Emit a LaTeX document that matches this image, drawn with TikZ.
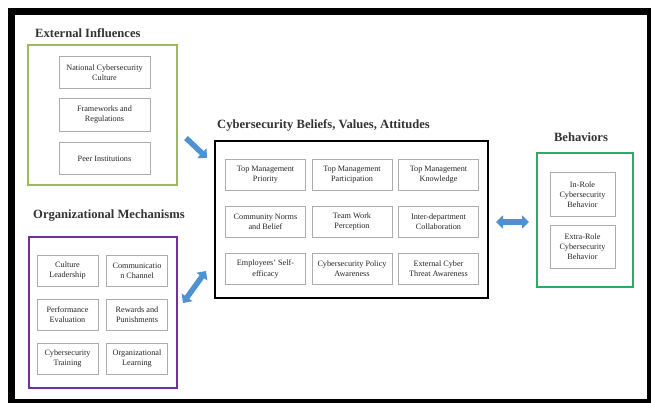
\documentclass[tikz,border=0pt]{standalone}
\usepackage{fontspec}
\setmainfont{Liberation Serif}
\usetikzlibrary{arrows.meta}

\definecolor{extgreen}{RGB}{155,187,89}
\definecolor{orgpurple}{RGB}{112,48,160}
\definecolor{behgreen}{RGB}{40,172,105}
\definecolor{arrowblue}{RGB}{78,146,210}

\tikzset{
  group/.style={draw, line width=2pt, inner sep=0pt},
  item/.style={draw=gray!65, line width=0.5pt, align=center, inner sep=0pt,
    font=\fontsize{8.2}{10}\selectfont, text=black!85},
  grouptitle/.style={font=\fontsize{12.6}{14}\selectfont\bfseries, text=black!80, inner sep=0pt},
  bigarrow/.style={arrowblue, line width=5.5pt, -{Triangle[length=7pt,width=13pt]}},
  twoarrow/.style={arrowblue, line width=5.5pt, {Triangle[length=7pt,width=13pt]}-{Triangle[length=7pt,width=13pt]}}
}

\begin{document}
\begin{tikzpicture}[x=1pt,y=-1pt]
      \useasboundingbox (0,0) rectangle (651,403);
      % frame
      \fill[black] (8,8) rectangle (651,403);
      \fill[white] (15,15) rectangle (647,399);

      % external influences
      \node[grouptitle, anchor=west] (exttitle) at (35,33) {External Influences};
      \node[group, draw=extgreen, minimum width=149, minimum height=140] (ext) at (102.5,115) {};
      \node[item, minimum width=91, minimum height=32] (ext1) at (104.5,72.5) {National Cybersecurity\\Culture};
      \node[item, minimum width=91, minimum height=33] (ext2) at (104.5,115) {Frameworks and\\Regulations};
      \node[item, minimum width=91, minimum height=32] (ext3) at (104.5,158.5) {Peer Institutions};

      % organizational mechanisms
      \node[grouptitle, anchor=west] (orgtitle) at (33,216) {Organizational Mechanisms};
      \node[group, draw=orgpurple, line width=2.5pt, minimum width=148, minimum height=151] (org) at (103,312.5) {};
      \node[item, minimum width=61, minimum height=31] (org1) at (67.5,271) {Culture\\Leadership};
      \node[item, minimum width=61, minimum height=31] (org2) at (137,271) {Communicatio\\n Channel};
      \node[item, minimum width=61, minimum height=31] (org3) at (67.5,315) {Performance\\Evaluation};
      \node[item, minimum width=61, minimum height=31] (org4) at (137,315) {Rewards and\\Punishments};
      \node[item, minimum width=61, minimum height=31] (org5) at (67.5,359) {Cybersecurity\\Training};
      \node[item, minimum width=61, minimum height=31] (org6) at (137,359) {Organizational\\Learning};

      % beliefs, values, attitudes
      \node[grouptitle, anchor=west] (bvatitle) at (217,125) {Cybersecurity Beliefs, Values, Attitudes};
      \node[group, draw=black, line width=2.5pt, minimum width=273, minimum height=157] (bva) at (351.5,219.5) {};
      \foreach \lbl [count=\i] in {Top Management\\Priority, Top Management\\Participation, Top Management\\Knowledge,
          Community Norms\\and Belief, Team Work\\Perception, Inter-department\\Collaboration,
          Employees' Self-\\efficacy, Cybersecurity Policy\\Awareness, External Cyber\\Threat Awareness} {
        \pgfmathsetmacro{\cx}{265.5+86.5*mod(\i-1,3)}
        \pgfmathsetmacro{\cy}{174.5+47.25*floor((\i-1)/3)}
        \node[item, minimum width=80, minimum height=31] (bva\i) at (\cx,\cy) {\lbl};
      }

      % behaviors
      \node[grouptitle] (behtitle) at (581,137) {Behaviors};
      \node[group, draw=behgreen, line width=2.5pt, minimum width=96, minimum height=134] (beh) at (585,220) {};
      \node[item, minimum width=65, minimum height=44] (beh1) at (582.5,194.5) {In-Role\\Cybersecurity\\Behavior};
      \node[item, minimum width=65, minimum height=43] (beh2) at (582.5,247) {Extra-Role\\Cybersecurity\\Behavior};

      % arrows
      \coordinate (a1s) at (186,138);
      \coordinate (a1e) at (207,158);
      \coordinate (a2s) at (183,303);
      \coordinate (a2e) at (206,271);
      \coordinate (a3s) at (496,222);
      \coordinate (a3e) at (529,222);
      \draw[bigarrow] (a1s) -- (a1e);
      \draw[twoarrow] (a2s) -- (a2e);
      \draw[twoarrow] (a3s) -- (a3e);
    \end{tikzpicture}
\end{document}
